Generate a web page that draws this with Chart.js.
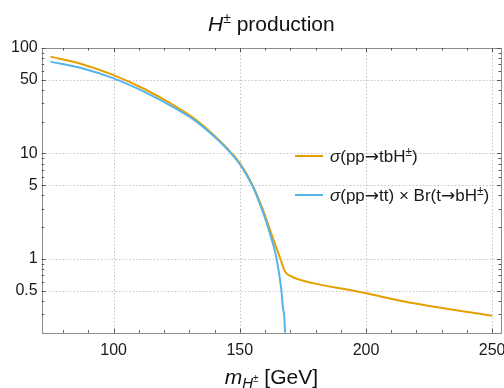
<!DOCTYPE html>
<html>
<head>
<meta charset="utf-8">
<script src="https://cdn.jsdelivr.net/npm/chart.js@4.4.1/dist/chart.umd.min.js"></script>
<style>
  html, body { margin: 0; padding: 0; background: #fff; }
  #wrap { position: relative; width: 504px; height: 388px; }
</style>
</head>
<body>
<div id="wrap"><canvas id="chart" width="504" height="388"></canvas></div>
<script>
// values (pb vs GeV)
const massTbH = [75, 87.5, 100, 112, 124, 132.4, 139, 145.6, 150, 154.9, 159, 162.9, 164.8, 166.1, 167.9, 170, 179, 195.2, 200, 219, 250];
const xsecTbH = [82.8, 70.2, 55.4, 41.1, 28.5, 21.1, 15.5, 10.8, 8.1, 5.1, 3.0, 1.63, 1.22, 1.0, 0.76, 0.69, 0.59, 0.5, 0.473, 0.38, 0.29];
const massTtBr = [75, 87.5, 100, 112, 124, 132.4, 139, 145.6, 150, 154.9, 158.9, 161.6, 164.6, 166.5, 167.2, 167.9, 168.2];
const xsecTtBr = [74.3, 64.3, 51.6, 38.6, 27.2, 20.4, 15.1, 10.6, 7.9, 5.0, 2.9, 1.85, 1.0, 0.5, 0.33, 0.2, 0.01];

const xMajor = [100, 150, 200, 250];
const xMinor = [80, 90, 110, 120, 130, 140, 160, 170, 180, 190, 210, 220, 230, 240];
const yMajor = [0.5, 1, 5, 10, 50, 100];
const yMinor = [0.3, 0.4, 0.6, 0.7, 0.8, 0.9, 2, 3, 4, 6, 7, 8, 9, 20, 30, 40, 60, 70, 80, 90];

const ORANGE = '#E69F00';
const BLUE = '#56B4E9';
const FAMILY = '"Liberation Sans", Arial, Helvetica, sans-serif';
const ARROW_FAMILY = '"DejaVu Sans", sans-serif';

const toPoints = (xs, ys) => xs.map((x, i) => ({ x, y: ys[i] }));

const fontOf = (p) => `${p.it ? 'italic ' : ''}${p.s}px ${p.f || FAMILY}`;

const drawRich = (ctx, parts, x, y, align) => {
  let total = 0;
  parts.forEach((p) => {
    ctx.font = fontOf(p);
    p.w = ctx.measureText(p.t).width;
    total += p.w;
  });
  let cx = align === 'center' ? x - total / 2 : x;
  parts.forEach((p) => {
    ctx.font = fontOf(p);
    ctx.fillText(p.t, cx, y + (p.dy || 0));
    cx += p.w;
  });
};

const LS = 17;
const arrow = { t: '→', s: LS, f: ARROW_FAMILY };
const sup = { t: '±', s: 12, dy: -6 };

const frame = {
  id: 'frame',
  beforeDatasetsDraw(chart) {
    const { ctx, chartArea: a, scales: { x, y } } = chart;
    ctx.save();
    ctx.strokeStyle = '#c4c4c4';
    ctx.lineWidth = 1;
    ctx.setLineDash([1.5, 2]);
    xMajor.forEach((v) => {
      const px = Math.round(x.getPixelForValue(v)) + 0.5;
      ctx.beginPath();
      ctx.moveTo(px, a.top);
      ctx.lineTo(px, a.bottom);
      ctx.stroke();
    });
    yMajor.forEach((v) => {
      const py = Math.round(y.getPixelForValue(v)) + 0.5;
      ctx.beginPath();
      ctx.moveTo(a.left, py);
      ctx.lineTo(a.right, py);
      ctx.stroke();
    });
    ctx.restore();
  },
  afterDatasetsDraw(chart) {
    const { ctx, chartArea: a, scales: { x, y } } = chart;
    ctx.save();
    ctx.strokeStyle = '#8c8c8c';
    ctx.lineWidth = 1;
    ctx.strokeRect(Math.round(a.left) + 0.5, Math.round(a.top) + 0.5,
      Math.round(a.right - a.left), Math.round(a.bottom - a.top));

    const tickX = (v, len) => {
      const px = Math.round(x.getPixelForValue(v)) + 0.5;
      ctx.beginPath();
      ctx.moveTo(px, a.bottom);
      ctx.lineTo(px, a.bottom - len);
      ctx.moveTo(px, a.top);
      ctx.lineTo(px, a.top + len);
      ctx.stroke();
    };
    const tickY = (v, len) => {
      const py = Math.round(y.getPixelForValue(v)) + 0.5;
      ctx.beginPath();
      ctx.moveTo(a.left, py);
      ctx.lineTo(a.left + len, py);
      ctx.moveTo(a.right, py);
      ctx.lineTo(a.right - len, py);
      ctx.stroke();
    };
    ctx.strokeStyle = '#555';
    xMajor.forEach((v) => tickX(v, 4));
    xMinor.forEach((v) => tickX(v, 2.5));
    yMajor.forEach((v) => tickY(v, 4));
    yMinor.forEach((v) => tickY(v, 2.5));

    // legend
    const legend = [
      { color: ORANGE, cy: 156, parts: [{ t: 'σ', it: true, s: LS }, { t: '(pp', s: LS }, arrow, { t: 'tbH', s: LS }, sup, { t: ')', s: LS }] },
      { color: BLUE, cy: 195, parts: [{ t: 'σ', it: true, s: LS }, { t: '(pp', s: LS }, arrow, { t: 'tt) × Br(t', s: LS }, arrow, { t: 'bH', s: LS }, sup, { t: ')', s: LS }] }
    ];
    legend.forEach((item) => {
      ctx.strokeStyle = item.color;
      ctx.lineWidth = 2;
      ctx.beginPath();
      ctx.moveTo(295, item.cy);
      ctx.lineTo(323, item.cy);
      ctx.stroke();
      ctx.fillStyle = '#1a1a1a';
      ctx.textBaseline = 'alphabetic';
      drawRich(ctx, item.parts, 330, item.cy + 6, 'left');
    });
    ctx.restore();
  },
  afterDraw(chart) {
    const { ctx, chartArea: a } = chart;
    const mid = (a.left + a.right) / 2;
    ctx.save();
    ctx.fillStyle = '#111';
    ctx.textBaseline = 'alphabetic';
    drawRich(ctx, [{ t: 'H', it: true, s: 21 }, { t: '±', s: 14, dy: -8 }, { t: ' production', s: 21 }], mid, 31, 'center');
    drawRich(ctx, [{ t: 'm', it: true, s: 21 }, { t: 'H', it: true, s: 15, dy: 4 }, { t: '±', s: 10, dy: -2 }, { t: ' [GeV]', s: 21 }], mid, 384, 'center');
    ctx.restore();
  }
};

new Chart(document.getElementById('chart'), {
  type: 'line',
  data: {
    datasets: [
      {
        label: 'σ(pp→tt) × Br(t→bH±)',
        data: toPoints(massTtBr, xsecTtBr),
        borderColor: BLUE,
        borderWidth: 2,
        pointRadius: 0,
        cubicInterpolationMode: 'monotone',
        fill: false
      },
      {
        label: 'σ(pp→tbH±)',
        data: toPoints(massTbH, xsecTbH),
        borderColor: ORANGE,
        borderWidth: 2,
        pointRadius: 0,
        cubicInterpolationMode: 'monotone',
        fill: false
      }
    ]
  },
  options: {
    responsive: false,
    animation: false,
    devicePixelRatio: 1,
    layout: { padding: { top: 48, right: 3, left: 0, bottom: 0 } },
    plugins: {
      legend: { display: false },
      title: { display: false },
      tooltip: { enabled: false }
    },
    scales: {
      x: {
        type: 'linear',
        min: 71.5,
        max: 253.5,
        afterBuildTicks: (scale) => { scale.ticks = xMajor.map((value) => ({ value })); },
        afterFit: (scale) => {
          scale.height = 55.3;
          scale.paddingLeft = 0;
          scale.paddingRight = 0;
        },
        grid: { display: false, drawTicks: false },
        border: { display: false },
        ticks: {
          autoSkip: false,
          maxRotation: 0,
          padding: 8,
          color: '#1a1a1a',
          font: { family: FAMILY, size: 16 },
          callback: (v) => String(v)
        }
      },
      y: {
        type: 'logarithmic',
        min: 0.2,
        max: 100,
        afterBuildTicks: (scale) => { scale.ticks = yMajor.map((value) => ({ value })); },
        afterFit: (scale) => {
          scale.width = 41.7;
          scale.paddingTop = 0;
          scale.paddingBottom = 0;
        },
        grid: { display: false, drawTicks: false },
        border: { display: false },
        ticks: {
          autoSkip: false,
          padding: 4,
          color: '#1a1a1a',
          font: { family: FAMILY, size: 16 },
          callback: (v) => String(v)
        }
      }
    }
  },
  plugins: [frame]
});
</script>
</body>
</html>
